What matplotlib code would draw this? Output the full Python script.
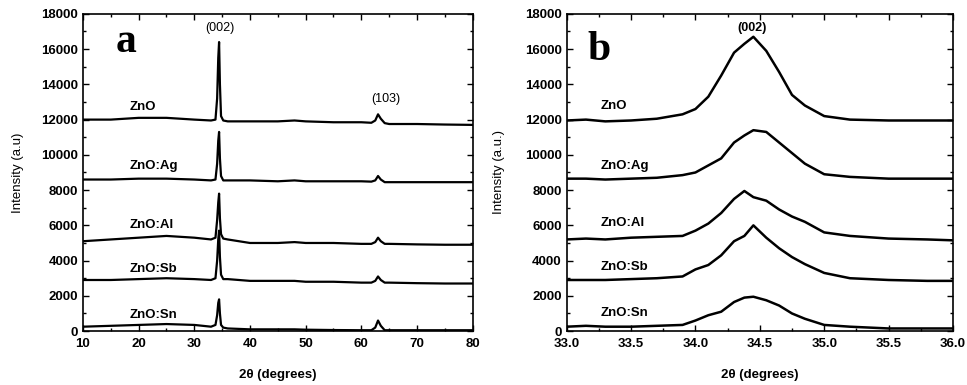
import matplotlib.pyplot as plt
from matplotlib.ticker import MultipleLocator

plt.rcParams['font.family'] = ['Liberation Sans', 'DejaVu Sans']

labels = ['ZnO', 'ZnO:Ag', 'ZnO:Al', 'ZnO:Sb', 'ZnO:Sn']

# panel a: wide scan, 10-80 deg
a_x = [10, 15, 20, 25, 30, 33, 33.8, 34.1, 34.3, 34.45, 34.6, 34.8, 35.2, 36, 40, 45, 48, 50,
       55, 60, 61.8, 62.5, 63.0, 63.5, 64.2, 65, 70, 75, 80]
a_y = {
    'ZnO':    [12000, 12000, 12100, 12100, 12000, 11950, 12000, 13200, 15500, 16400, 14000, 12200, 11950, 11900, 11900,
               11900, 11950, 11900, 11850, 11850, 11820, 11950, 12300, 12050, 11800, 11750, 11750, 11720, 11700],
    'ZnO:Ag': [8600, 8600, 8650, 8650, 8600, 8550, 8600, 9500, 10800, 11300, 9800, 8800, 8550, 8550, 8550,
               8500, 8550, 8500, 8500, 8500, 8480, 8550, 8800, 8600, 8450, 8450, 8450, 8450, 8450],
    'ZnO:Al': [5100, 5200, 5300, 5400, 5300, 5200, 5300, 6300, 7300, 7800, 6400, 5500, 5250, 5200, 5000,
               5000, 5050, 5000, 5000, 4950, 4950, 5050, 5300, 5100, 4950, 4950, 4920, 4900, 4900],
    'ZnO:Sb': [2900, 2900, 2950, 3000, 2950, 2900, 3000, 4000, 5200, 5700, 4200, 3200, 2950, 2950, 2850,
               2850, 2850, 2800, 2800, 2750, 2750, 2850, 3100, 2900, 2750, 2750, 2720, 2700, 2700],
    'ZnO:Sn': [250, 300, 350, 400, 350, 250, 350, 900, 1600, 1800, 1000, 350, 200, 150, 100,
               100, 100, 80, 60, 50, 50, 200, 600, 300, 50, 50, 50, 50, 50],
}

# panel b: zoom on (002), 33-36 deg
b_x = [33.0, 33.15, 33.3, 33.5, 33.7, 33.9, 34.0, 34.1, 34.2, 34.3, 34.38, 34.45, 34.55, 34.65, 34.75,
       34.85, 35.0, 35.2, 35.5, 35.8, 36.0]
b_y = {
    'ZnO':    [11950, 12000, 11900, 11950, 12050, 12300, 12600, 13300, 14500, 15800, 16300, 16700, 15900, 14700,
               13400, 12800, 12200, 12000, 11950, 11950, 11950],
    'ZnO:Ag': [8650, 8650, 8600, 8650, 8700, 8850, 9000, 9400, 9800, 10700, 11100, 11400, 11300, 10700,
               10100, 9500, 8900, 8750, 8650, 8650, 8650],
    'ZnO:Al': [5200, 5250, 5200, 5300, 5350, 5400, 5700, 6100, 6700, 7500, 7950, 7600, 7400, 6900,
               6500, 6200, 5600, 5400, 5250, 5200, 5150],
    'ZnO:Sb': [2900, 2900, 2900, 2950, 3000, 3100, 3500, 3750, 4300, 5100, 5400, 6000, 5300, 4700,
               4200, 3800, 3300, 3000, 2900, 2850, 2850],
    'ZnO:Sn': [250, 300, 250, 250, 300, 350, 600, 900, 1100, 1650, 1900, 1950, 1750, 1450,
               1000, 700, 350, 250, 150, 150, 150],
}

a_label_y = [12720, 9370, 6020, 3520, 900]
b_label_y = [12780, 9370, 6130, 3630, 1020]

fig = plt.figure(figsize=(9.67, 3.85), dpi=100)
ax1 = fig.add_axes([0.0858, 0.140, 0.403, 0.824])
ax2 = fig.add_axes([0.586, 0.140, 0.3995, 0.824])

for lab in labels:
    ax1.plot(a_x, a_y[lab], color='black', lw=1.6)
    ax2.plot(b_x, b_y[lab], color='black', lw=1.8)

for lab, yy in zip(labels, a_label_y):
    ax1.text(18.3, yy, lab, fontsize=9.5, fontweight='bold', va='center', ha='left')
for lab, yy in zip(labels, b_label_y):
    ax2.text(33.26, yy, lab, fontsize=9.5, fontweight='bold', va='center', ha='left')

ax1.text(34.6, 17200, '(002)', fontsize=9, ha='center', va='center')
ax1.text(64.4, 13180, '(103)', fontsize=9, ha='center', va='center')
ax2.text(34.44, 17200, '(002)', fontsize=9, ha='center', va='center', fontweight='bold')
ax1.text(17.8, 16400, 'a', fontsize=30, family='Liberation Serif', fontweight='bold', ha='center', va='center')
ax2.text(33.25, 15960, 'b', fontsize=30, family='Liberation Serif', fontweight='bold', ha='center', va='center')

ax1.set_xlim(10, 80)
ax2.set_xlim(33, 36)
ax1.xaxis.set_major_locator(MultipleLocator(10))
ax1.xaxis.set_minor_locator(MultipleLocator(5))
ax2.xaxis.set_major_locator(MultipleLocator(0.5))
ax2.xaxis.set_minor_locator(MultipleLocator(0.25))
ax2.xaxis.set_major_formatter(plt.FormatStrFormatter('%.1f'))

for ax, ylab, pad in [(ax1, 'Intensity (a.u)', 12), (ax2, 'Intensity (a.u.)', 14)]:
    ax.set_ylim(0, 18000)
    ax.yaxis.set_major_locator(MultipleLocator(2000))
    ax.yaxis.set_minor_locator(MultipleLocator(1000))
    ax.tick_params(which='both', direction='in', top=True, right=True, labelsize=9.5, width=1)
    ax.tick_params(which='major', length=4)
    ax.tick_params(which='minor', length=2)
    ax.tick_params(axis='x', pad=5)
    for t in ax.get_xticklabels() + ax.get_yticklabels():
        t.set_fontweight('bold')
    for s in ax.spines.values():
        s.set_linewidth(1.2)
    ax.set_xlabel('2θ (degrees)', fontsize=9.5, fontweight='bold', labelpad=14)
    ax.set_ylabel(ylab, fontsize=9.5, labelpad=pad)

fig.savefig('out.png', dpi=100)
